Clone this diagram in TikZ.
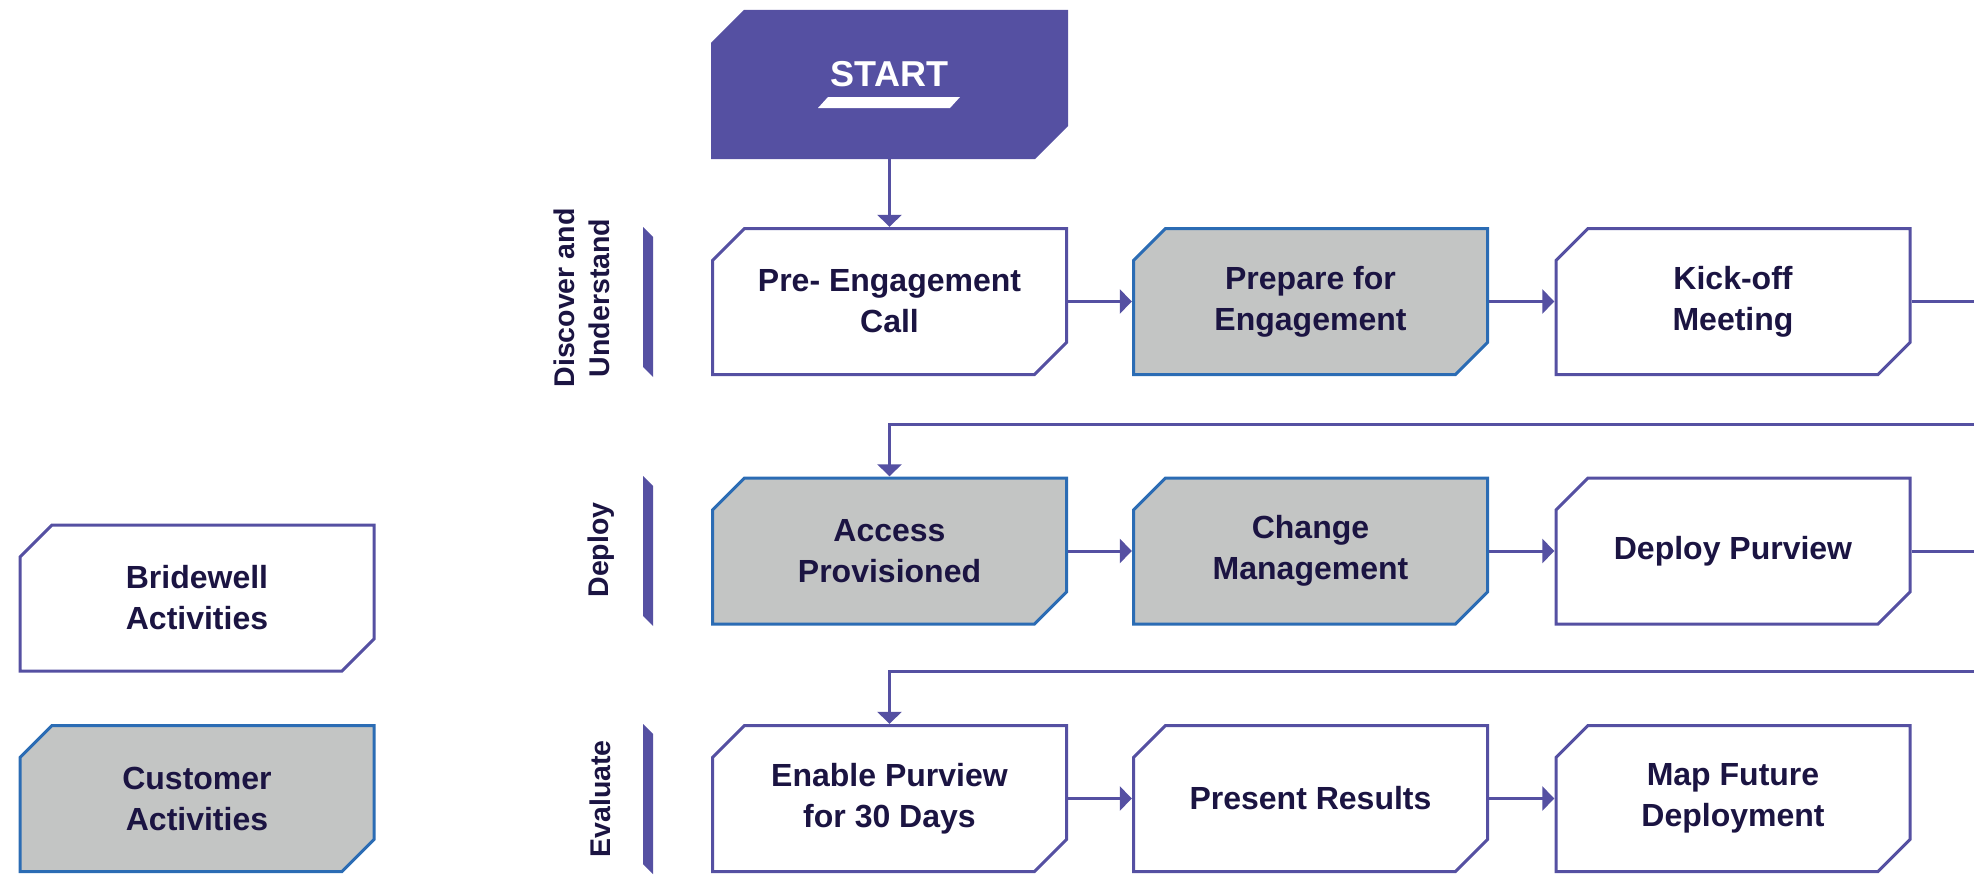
\documentclass[tikz,border=0pt]{standalone}
\usepackage{fontspec}
\setmainfont{Liberation Sans}
\usepackage{xcolor}
\usetikzlibrary{arrows.meta}

\definecolor{flowpurple}{HTML}{5550A2}
\definecolor{custgray}{HTML}{C3C5C4}
\definecolor{custblue}{HTML}{2B6CB4}
\definecolor{inktext}{HTML}{1B1442}

\begin{document}
\begin{tikzpicture}[x=1pt, y=-1pt,
        cutbox/.style 2 args={rectangle, inner sep=0pt, minimum width=357pt, minimum height=149pt,
            align=center, text=inktext, font=\bfseries\fontsize{32}{41}\selectfont,
            path picture={
                \path[draw=#1, fill=#2, line width=3pt]
                    ([shift={(1.5pt,-33.5pt)}]path picture bounding box.north west)
                    -- ([shift={(33.5pt,-1.5pt)}]path picture bounding box.north west)
                    -- ([shift={(-1.5pt,-1.5pt)}]path picture bounding box.north east)
                    -- ([shift={(-1.5pt,33.5pt)}]path picture bounding box.south east)
                    -- ([shift={(-33.5pt,1.5pt)}]path picture bounding box.south east)
                    -- ([shift={(1.5pt,1.5pt)}]path picture bounding box.south west)
                    -- cycle;
            }},
        stepbox/.style={cutbox={flowpurple}{white}},
        custbox/.style={cutbox={custblue}{custgray}},
        startbox/.style={cutbox={flowpurple}{flowpurple}},
        lanetext/.style={rotate=90, align=center, text=inktext, font=\bfseries\fontsize{28.5}{35}\selectfont},
        flow/.style={draw=flowpurple, line width=3pt, -{Triangle[length=12pt,width=24pt]}}]

                \useasboundingbox (0,0) rectangle (1974,875);
                \clip (0,0) rectangle (1974,875);

                % Nodes
                \node[startbox, label={[text=white, yshift=10pt, font=\bfseries\fontsize{36}{40}\selectfont]center:START}] (start) at (889.5, 84.5) {};
                \fill[white] (818,108) -- (950,108) -- (960,97) -- (828,97) -- cycle;

                \node[stepbox] (precall) at (889.5, 301.5) {Pre- Engagement\\Call};
                \node[custbox] (prepare) at (1310.5, 301.5) {Prepare for\\Engagement};
                \node[stepbox] (kickoff) at (1733, 301.5) {Kick-off\\Meeting};

                \node[custbox] (access) at (889.5, 551) {Access\\Provisioned};
                \node[custbox] (change) at (1310.5, 551) {Change\\Management};
                \node[stepbox] (deploy) at (1733, 551) {Deploy Purview};

                \node[stepbox] (enable) at (889.5, 798.5) {Enable Purview\\for 30 Days};
                \node[stepbox] (present) at (1310.5, 798.5) {Present Results};
                \node[stepbox] (mapfuture) at (1733, 798.5) {Map Future\\Deployment};

                \node[stepbox] (bridewell) at (197, 598) {Bridewell\\Activities};
                \node[custbox] (customer) at (197, 798.5) {Customer\\Activities};

                % Lanes
                \node[lanetext] (discover) at (582, 298) {Discover and\\Understand};
                \node[lanetext] (deploylane) at (601, 550) {Deploy};
                \node[lanetext] (evaluate) at (600, 799) {Evaluate};
                \fill[flowpurple] (643,227) -- (653,237) -- (653,377) -- (643,367) -- cycle;
                \fill[flowpurple] (643,476) -- (653,486) -- (653,626) -- (643,616) -- cycle;
                \fill[flowpurple] (643,724) -- (653,734) -- (653,874) -- (643,864) -- cycle;

                \coordinate (turn1) at (2000, 424);
                \coordinate (turn2) at (2000, 671);

                % Edges
                \draw[flow] (start) -- (precall);
                \draw[flow] (precall) -- (prepare);
                \draw[flow] (prepare) -- (kickoff);
                \draw[flow] (kickoff.east) -| (turn1) -| (access.north);
                \draw[flow] (access) -- (change);
                \draw[flow] (change) -- (deploy);
                \draw[flow] (deploy.east) -| (turn2) -| (enable.north);
                \draw[flow] (enable) -- (present);
                \draw[flow] (present) -- (mapfuture);

            \end{tikzpicture}
\end{document}
